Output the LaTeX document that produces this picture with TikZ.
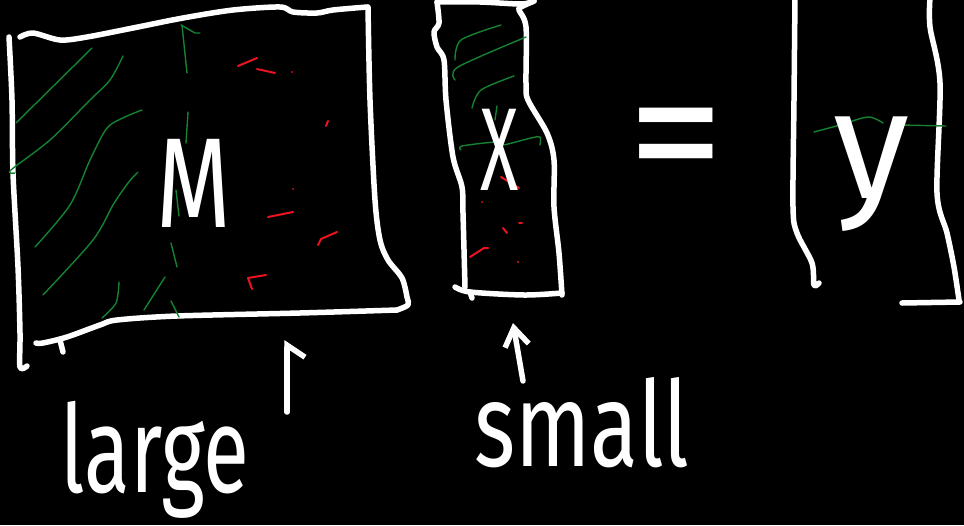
\documentclass[tikz,border=0pt]{standalone}
\usepackage{fontspec}
\setmainfont{Fira Sans}
\usetikzlibrary{arrows.meta}
\definecolor{penGreen}{RGB}{20,130,50}
\definecolor{penRed}{RGB}{235,20,30}
\begin{document}
\begin{tikzpicture}[x=1pt,y=-1pt,
  chalk/.style={draw=white,line width=5.5pt,line cap=round,line join=round},
  gline/.style={draw=penGreen,line width=1.4pt,line cap=round,line join=round},
  rline/.style={draw=penRed,line width=2pt,line cap=round,line join=round},
  handtext/.style={text=white,inner sep=0pt},
  halfpointer/.style={chalk,-{Straight Barb[right,length=12pt,width=36pt]}},
  fullpointer/.style={chalk,-{Straight Barb[length=18pt,width=24pt]}}]
\fill[black] (0,0) rectangle (964,525);
\useasboundingbox (0,0) rectangle (964,525);

% ---------- large matrix M ----------
\draw[chalk] plot[smooth,tension=0.5] coordinates {(20,37)(33,33)(60,40)(87,37)(133,28)(183,18)(233,10)(280,7)(293,12)(317,13)(333,10)(367,7)};
\draw[chalk] plot[smooth,tension=0.5] coordinates {(368,7)(370,100)(375,200)(380,240)(388,260)(402,278)(407,297)(408,305)(397,310)};
\draw[chalk] plot[smooth,tension=0.5] coordinates {(397,310)(300,313)(177,316)(117,320)(100,325)(67,337)(43,343)(36,343)};
\draw[chalk] (60,340) -- (63,352);
\draw[chalk] plot[smooth,tension=0.5] coordinates {(9,37)(12,100)(13,173)(18,267)(20,333)(20,367)(27,366)};
% green hatching
\draw[gline] (16,123) -- (92,48);
\draw[gline] plot[smooth,tension=0.5] coordinates {(15,173)(11,170)(50,140)(90,100)(110,80)(123,56)};
\draw[gline] plot[smooth,tension=0.5] coordinates {(35,247)(70,205)(90,160)(107,128)(125,117)(142,110)};
\draw[gline] plot[smooth,tension=0.5] coordinates {(43,295)(93,240)(113,205)(128,183)(138,172)};
\draw[gline] plot[smooth,tension=0.5] coordinates {(102,318)(116,303)(119,282)};
\draw[gline] (144,310) -- (165,277);
\draw[gline] (182,25) -- (187,73);
\draw[gline] (181,25) -- (195,33) -- (200,33);
\draw[gline] (188,112) -- (186,143);
\draw[gline] (176,190) -- (179,216);
\draw[gline] (171,243) -- (177,267);
\draw[gline] (171,301) -- (179,317);
% red marks
\draw[rline] (238,66) -- (257,58);
\draw[rline] (257,69) -- (275,73);
\fill[penRed] (292,72) circle (1pt);
\draw[rline] (326,126) -- (328,121);
\fill[penRed] (293,189) circle (1pt);
\draw[rline] (268,217) -- (293,212);
\draw[rline] (318,245) -- (321,239) -- (337,232);
\draw[rline] (252,289) -- (248,278) -- (266,275);
\node[handtext] (M) at (194,183) {\fontsize{128}{128}\selectfont\scalebox{0.75}[1]{M}};

% ---------- small vector X ----------
\draw[chalk] plot[smooth,tension=0.5] coordinates {(437,2)(480,2)(521,4)(534,1)};
\draw[chalk] plot[smooth,tension=0.5] coordinates {(437,2)(439,23)(434,32)(437,47)(444,60)(446,100)(453,157)(462,187)(463,213)(465,287)};
\draw[chalk] plot[smooth,tension=0.5] coordinates {(455,287)(470,292)(524,295)(562,293)};
\draw[chalk] (470,292) -- (472,298);
\draw[chalk] plot[smooth,tension=0.5] coordinates {(562,295)(559,253)(554,207)(554,160)(547,133)(528,100)(526,83)(526,27)(519,10)(521,7)(534,1)};
\draw[gline] plot[smooth,tension=0.5] coordinates {(455,60)(461,40)(501,25)};
\draw[gline] plot[smooth,tension=0.5] coordinates {(455,80)(458,67)(526,37)};
\draw[gline] plot[smooth,tension=0.5] coordinates {(472,108)(481,90)(514,76)};
\draw[gline] (495,120) -- (497,106);
\draw[gline] plot[smooth,tension=0.5] coordinates {(461,150)(462,146)(496,142)(503,145)(531,138)(540,137)(540,145)};
\draw[rline] (501,177) -- (519,188);
\fill[penRed] (482,202) circle (1pt);
\draw[rline] (519,223) -- (522,223);
\draw[rline] (503,228) -- (507,233);
\draw[rline] (470,257) -- (484,248) -- (488,248);
\fill[penRed] (518,262) circle (1.2pt);
\node[handtext] (X) at (500,150) {\fontsize{118}{118}\selectfont\scalebox{0.6}[1]{X}};

% ---------- equals ----------
\node[handtext] (eq) at (676,152) {\fontsize{150}{150}\selectfont\scalebox{1.3}[1.25]{=}};

% ---------- result y ----------
\draw[chalk] plot[smooth,tension=0.5] coordinates {(795,-2)(794,100)(793,207)(797,233)(812,263)(814,285)(819,283)};
\draw[chalk] plot[smooth,tension=0.5] coordinates {(930,-2)(930,27)(940,83)(937,193)(947,233)(954,267)(959,300)};
\draw[chalk] (902,303) -- (960,302);
\draw[gline] plot[smooth,tension=0.5] coordinates {(814,132)(840,125)(868,117)(883,123)};
\draw[gline] (901,125) -- (946,126);
\node[handtext] (y) at (872,174) {\fontsize{155}{155}\selectfont y};

% ---------- labels and pointers ----------
\node[handtext] (large) at (155,460) {\fontsize{84}{84}\selectfont\scalebox{1}[1.45]{large}};
\node[handtext] (small) at (582,423) {\fontsize{88}{88}\selectfont\scalebox{1}[1.35]{small}};
\coordinate (largeTail) at (287,412);
\coordinate (largeTip) at (287,340);
\coordinate (smallTail) at (523,381);
\coordinate (smallTip) at (513,323);
\draw[halfpointer] (largeTail) -- (largeTip);
\draw[fullpointer] (smallTail) -- (smallTip);
\end{tikzpicture}
\end{document}
